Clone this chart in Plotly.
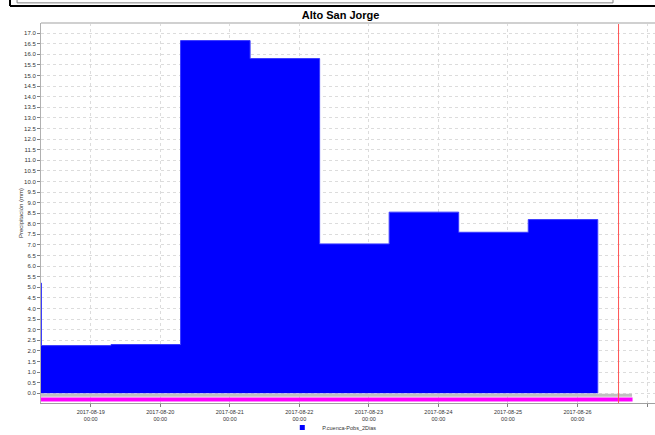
import plotly.graph_objects as go

# ---- data ----
period_start = ['2017-08-17 07:00', '2017-08-18 07:00', '2017-08-19 07:00', '2017-08-20 07:00',
                '2017-08-21 07:00', '2017-08-22 07:00', '2017-08-23 07:00', '2017-08-24 07:00',
                '2017-08-25 07:00', '2017-08-26 07:00']
precip_mm = [5.2, 2.25, 2.3, 16.65, 15.8, 7.05, 8.55, 7.6, 8.2, 0.0]

band_x = ['2017-08-18 06:50', '2017-08-26 18:50']
gray_band_y = [-0.09, -0.09]
magenta_x = ['2017-08-18 06:50', '2017-08-26 19:00']
magenta_band_y = [-0.3, -0.3]

now_marker = '2017-08-26 14:10'

tick_vals = ['2017-08-19', '2017-08-20', '2017-08-21', '2017-08-22', '2017-08-23',
             '2017-08-24', '2017-08-25', '2017-08-26', '2017-08-27']
tick_text = ['2017-08-19<br>00:00', '2017-08-20<br>00:00', '2017-08-21<br>00:00',
             '2017-08-22<br>00:00', '2017-08-23<br>00:00', '2017-08-24<br>00:00',
             '2017-08-25<br>00:00', '2017-08-26<br>00:00', '2017-08-27<br>00:00']

x_range = ['2017-08-18 06:50', '2017-08-27 02:45']
y_range = [-0.46, 17.48]

FONT = 'Liberation Sans, Arial, sans-serif'

fig = go.Figure()
fig.add_trace(go.Scatter(
    x=period_start, y=precip_mm, mode='lines', line=dict(shape='hv', color='#3a3aff', width=1),
    fill='tozeroy', fillcolor='#0000ff', showlegend=False, hoverinfo='x+y'))
fig.add_trace(go.Scatter(x=band_x, y=gray_band_y, mode='lines',
                         line=dict(color='#c0c0c0', width=3), showlegend=False))
fig.add_trace(go.Scatter(x=magenta_x, y=magenta_band_y, mode='lines',
                         line=dict(color='#ff00ff', width=4), showlegend=False))
fig.add_trace(go.Scatter(x=[None], y=[None], mode='markers', name='P.cuenca-Pobs_2Dias',
                         marker=dict(symbol='square', color='#0000ff', size=5)))

fig.update_layout(
    width=655, height=435,
    margin=dict(l=41, r=0, t=23, b=32, autoexpand=False),
    paper_bgcolor='white', plot_bgcolor='white',
    font=dict(family=FONT, size=6, color='#333333'),
    title=dict(text='<b>Alto San Jorge</b>', x=0.52, xanchor='center', xref='container',
               y=0.9655, yanchor='middle', yref='container',
               font=dict(family=FONT, size=11, color='#000000')),
    showlegend=True,
    legend=dict(orientation='h', x=0.4736, xanchor='center', y=-0.026, yanchor='top',
                font=dict(family=FONT, size=5.5, color='#333333'), itemwidth=30,
                bgcolor='rgba(0,0,0,0)', tracegroupgap=0),
    xaxis=dict(type='date', range=x_range, tickmode='array', tickvals=tick_vals, ticktext=tick_text,
               automargin=False,
               showgrid=True, gridcolor='#dcdcdc', griddash='dot', gridwidth=1,
               showline=True, linecolor='#a0a0a0', linewidth=1,
               ticks='outside', ticklen=3, tickcolor='#808080',
               tickfont=dict(family=FONT, size=5.5, color='#333333'), zeroline=False),
    yaxis=dict(range=y_range, tickmode='linear', tick0=0, dtick=0.5, tickformat='.1f',
               automargin=False,
               showgrid=True, gridcolor='#dcdcdc', griddash='dot', gridwidth=1,
               showline=True, linecolor='#b0b0b0', linewidth=1,
               ticks='outside', ticklen=3, tickcolor='#808080',
               tickfont=dict(family=FONT, size=6, color='#333333'), zeroline=False,
               title=dict(text='Precipitación (mm)', standoff=0,
                          font=dict(family=FONT, size=6, color='#333333'))),
    shapes=[
        # "now" marker
        dict(type='line', xref='x', yref='paper', x0=now_marker, x1=now_marker, y0=0, y1=1,
             line=dict(color='#ff5555', width=1)),
        # top frame line
        dict(type='line', xref='paper', yref='paper', x0=0, x1=1, y0=1, y1=1,
             line=dict(color='#d0d0d0', width=2)),
        # header decoration (black bar + gray box)
        dict(type='line', xref='paper', yref='paper', x0=-0.0505, x1=1.0, y0=1.0447, y1=1.0447,
             line=dict(color='#000000', width=2)),
        dict(type='line', xref='paper', yref='paper', x0=-0.0505, x1=-0.0505, y0=1.0447, y1=1.07,
             line=dict(color='#000000', width=2)),
        dict(type='rect', xref='paper', yref='paper', x0=-0.039, x1=0.9316, y0=1.053, y1=1.07,
             line=dict(color='#808080', width=1), fillcolor='rgba(0,0,0,0)'),
    ],
)

fig.write_html('out.html', config={'displayModeBar': False},
               post_script="document.body.style.margin='0';document.body.style.overflow='hidden';")
